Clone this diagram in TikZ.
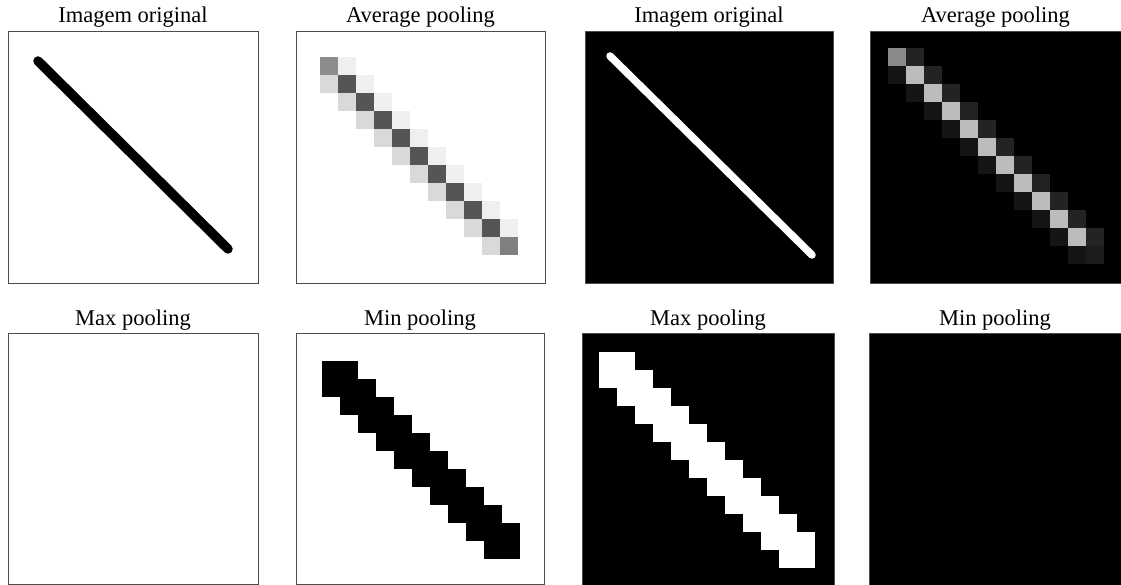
\documentclass[tikz,border=0pt]{standalone}
\usepackage{fontspec}
\setmainfont{Liberation Serif}
\usetikzlibrary{positioning,calc}
\definecolor{avgEnd}{HTML}{8C8C8C}
\definecolor{avgEndB}{HTML}{808080}
\definecolor{avgDark}{HTML}{555555}
\definecolor{avgLow}{HTML}{D9D9D9}
\definecolor{avgUp}{HTML}{EFEFEF}
\definecolor{invEnd}{HTML}{8A8A8A}
\definecolor{invLight}{HTML}{BCBCBC}
\definecolor{invLow}{HTML}{151515}
\definecolor{invUp}{HTML}{232323}
\definecolor{invLast}{HTML}{1C1C1C}
\newcommand\cellsz{18}
\newcommand\poolcell[5]{\fill[#5] ({#1+(#3)*\cellsz},{#2+(#4)*\cellsz}) rectangle ++(\cellsz,\cellsz);}
\begin{document}
\begin{tikzpicture}[
    x=1pt, y=-1pt,
    panel/.style={
        draw=black!70, line width=0.8pt,
        rectangle, inner sep=0pt, outer sep=0pt,
        anchor=north west,
        minimum width=250pt, minimum height=252pt
    },
    caption/.style={
        font=\fontsize{22.5}{27}\selectfont,
        inner sep=0pt
    },
    node distance=8pt
]
\useasboundingbox[fill=white] (0,0) rectangle (1121,585);

% panels
\node[panel, fill=white] (orig) at (8,31) {};
\node[panel, fill=white, minimum width=249pt] (avg) at (296,31) {};
\node[panel, fill=black, minimum width=248pt] (origInv) at (585,31) {};
\node[panel, fill=black, minimum width=251pt] (avgInv) at (870,31) {};
\node[panel, fill=white, minimum height=251pt] (max) at (8,333) {};
\node[panel, fill=white, minimum width=248pt, minimum height=251pt] (min) at (296,333) {};
\node[panel, fill=black, minimum width=252pt] (maxInv) at (582,333) {};
\node[panel, fill=black, minimum width=252pt] (minInv) at (869,333) {};

% titles
\node[caption, above=of orig, anchor=base] (tOrig) {Imagem original};
\node[caption, above=of avg, anchor=base] (tAvg) {Average pooling};
\node[caption, above=of origInv, anchor=base] (tOrigInv) {Imagem original};
\node[caption, above=of avgInv, anchor=base] (tAvgInv) {Average pooling};
\node[caption, above=of max, anchor=base] (tMax) {Max pooling};
\node[caption, above=of min, anchor=base] (tMin) {Min pooling};
\node[caption, above=of maxInv, anchor=base] (tMaxInv) {Max pooling};
\node[caption, above=of minInv, anchor=base] (tMinInv) {Min pooling};

% original images
\draw[line width=9.5pt, line cap=round] (38,61) -- (228,249);
\draw[white, line width=7.5pt, line cap=round] (610,56) -- (812,255);

% average pooling, white background
\poolcell{320}{57}{0}{0}{avgEnd}
\poolcell{320}{57}{1}{0}{avgUp}
\foreach \r in {1,...,9} {
    \poolcell{320}{57}{\r-1}{\r}{avgLow}
    \poolcell{320}{57}{\r}{\r}{avgDark}
    \poolcell{320}{57}{\r+1}{\r}{avgUp}
}
\poolcell{320}{57}{9}{10}{avgLow}
\poolcell{320}{57}{10}{10}{avgEndB}

% average pooling, black background
\poolcell{888}{48}{0}{0}{invEnd}
\poolcell{888}{48}{1}{0}{invUp}
\foreach \r in {1,...,10} {
    \poolcell{888}{48}{\r-1}{\r}{invLow}
    \poolcell{888}{48}{\r}{\r}{invLight}
    \poolcell{888}{48}{\r+1}{\r}{invUp}
}
\poolcell{888}{48}{10}{11}{invLow}
\poolcell{888}{48}{11}{11}{invLast}

% min pooling, white background
\fill (322,361) rectangle ++(36,18);
\foreach \r in {1,...,9}
    \fill ({322+(\r-1)*18},{361+\r*18}) rectangle ++(54,18);
\fill ({322+9*18},{361+10*18}) rectangle ++(36,18);

% max pooling, black background
\fill[white] (599,352) rectangle ++(36,18);
\foreach \r in {1,...,10}
    \fill[white] ({599+(\r-1)*18},{352+\r*18}) rectangle ++(54,18);
\fill[white] ({599+10*18},{352+11*18}) rectangle ++(36,18);
\end{tikzpicture}
\end{document}
